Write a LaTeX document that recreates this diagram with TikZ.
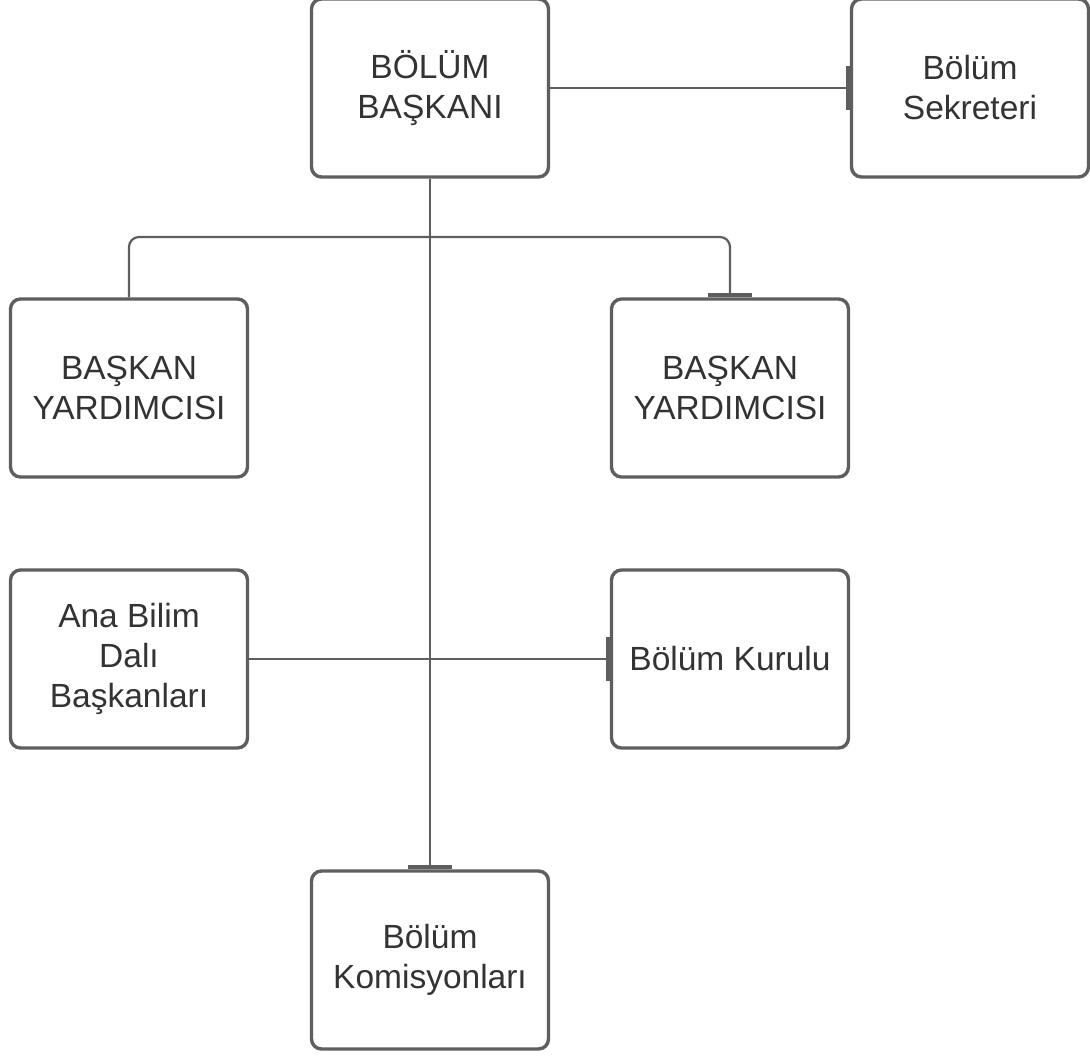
\documentclass[tikz,border=0pt]{standalone}
\usepackage{fontspec}
\setmainfont{Liberation Sans}
\usetikzlibrary{arrows.meta}

\definecolor{boxgray}{HTML}{5E5E5E}
\definecolor{txtgray}{HTML}{333333}

\begin{document}
\begin{tikzpicture}[
  x=1pt, y=1pt,
  font=\fontsize{33.5}{40}\selectfont,
  unit/.style={draw=boxgray, line width=3.4pt, rounded corners=10pt,
    minimum width=237pt, minimum height=178pt, inner sep=2pt,
    align=center, text=txtgray, fill=white},
  link/.style={draw=boxgray, line width=2.2pt},
  bartip/.style={-{Bar[width=44pt,line width=4pt]}},
]
\useasboundingbox (0,0) rectangle (1090,-1056);

% ---- top row ----
\node[unit] (bb)  at (430,-88)  {BÖLÜM\\BAŞKANI};
\node[unit] (sek) at (970,-88)  {Bölüm\\Sekreteri};

% ---- assistants ----
\node[unit] (by1) at (129,-388) {BAŞKAN\\YARDIMCISI};
\node[unit] (by2) at (730,-388) {BAŞKAN\\YARDIMCISI};

% ---- third row ----
\node[unit] (abd) at (129,-659) {Ana Bilim\\Dalı\\Başkanları};
\node[unit] (kur) at (730,-659) {Bölüm Kurulu};

% ---- bottom ----
\node[unit] (kom) at (430,-960) {Bölüm\\Komisyonları};

% junction on the trunk
\coordinate (j1) at (430,-237);

% ---- connectors ----
\draw[link,bartip] (bb.east) -- (sek.west);
\draw[link,bartip] (bb.south) -- (kom.north);
\draw[link,bartip,rounded corners=10pt] (by1.north) |- (j1) -| (by2.north);
\draw[link,bartip] (abd.east) -- (kur.west);

\end{tikzpicture}
\end{document}
